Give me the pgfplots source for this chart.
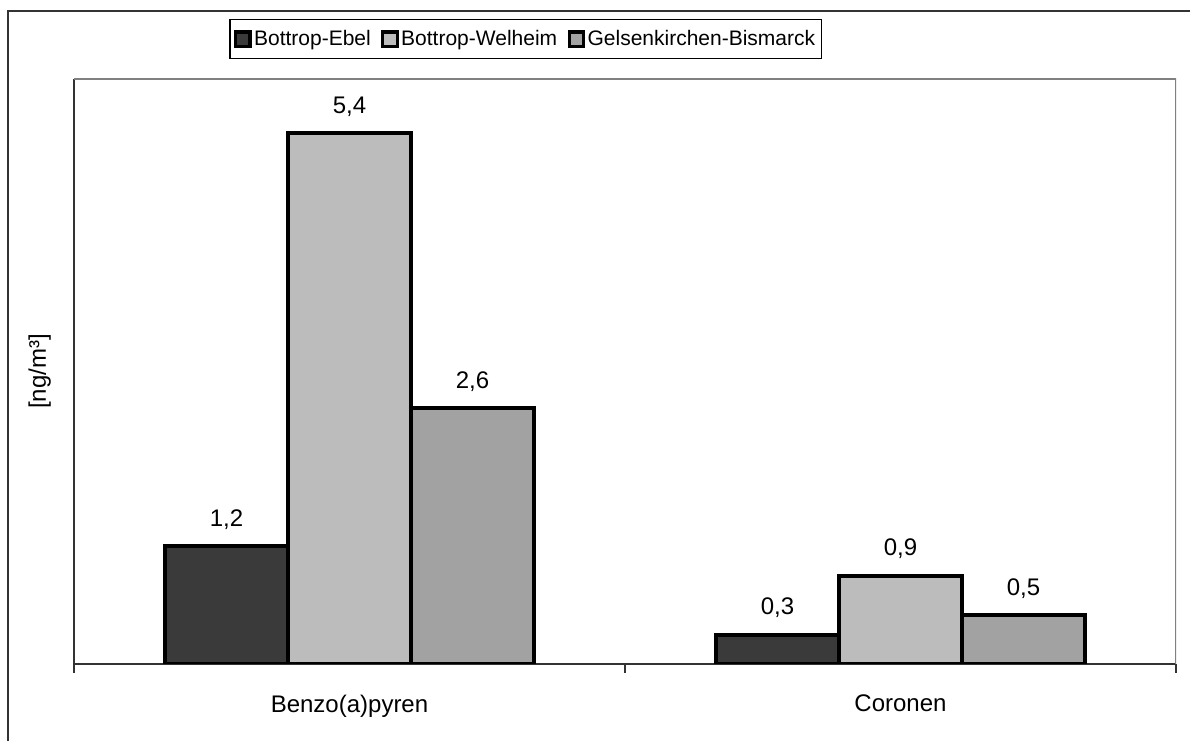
\documentclass[border=0pt]{standalone}
\usepackage{fontspec}
\setmainfont{Liberation Sans}
\usepackage{pgfplots}
\pgfplotsset{compat=1.18}

\definecolor{ebel}{HTML}{3A3A3A}
\definecolor{welheim}{HTML}{BCBCBC}
\definecolor{bismarck}{HTML}{A2A2A2}

\begin{document}
\begin{tikzpicture}
\useasboundingbox (0,0) rectangle (595pt,370pt);
% outer chart frame (cut off at right and bottom in the original)
\draw[line width=1pt, black!80] (4pt,-2pt) -- (4pt,364.5pt) -- (597pt,364.5pt);
\begin{axis}[
    at={(37pt,38pt)}, anchor=south west,
    scale only axis,
    width=551pt, height=292.5pt,
    ybar=0pt,
    bar width=61.5pt,
    xmin=-0.5, xmax=1.5,
    ymin=0, ymax=5.95,
    axis x line*=bottom,
    axis y line*=left,
    axis line style={-, draw=black!80, line width=1pt},
    ytick=\empty,
    xtick={0,1},
    xticklabels={Benzo(a)pyren, Coronen},
    major tick length=0pt,
    extra x ticks={-0.5,0.5,1.5},
    extra x tick labels={},
    extra x tick style={major tick length=4.5pt, tick align=outside,
        tick style={black!80, line width=1pt}},
    xticklabel style={font=\fontsize{12}{14}\selectfont, yshift=-12pt},
    ylabel={[ng/m³]},
    ylabel style={font=\fontsize{12}{14}\selectfont, at={(axis description cs:0,0.5)}, anchor=south, yshift=8pt},
    nodes near coords,
    /pgf/number format/.cd, use comma, fixed, fixed zerofill, precision=1, assume math mode=true,
    /pgfplots/.cd,
    every node near coord/.append style={font=\fontsize{12}{14}\selectfont, black, yshift=4pt},
    legend columns=3,
    legend style={at={(0.41,1.068)}, anchor=center, draw=black, line width=0.6pt,
        font=\fontsize{10.5}{12}\selectfont, inner xsep=2pt, inner ysep=3.2pt,
        nodes={inner xsep=1.2pt},
        /tikz/every odd column/.append style={column sep=0pt},
        /tikz/every even column/.append style={column sep=4pt}},
    legend cell align=left,
]
\draw[black!50, line width=1pt] (rel axis cs:0,1) -- (rel axis cs:1,1) -- (rel axis cs:1,0);
\addplot[fill=ebel, draw=black, line width=2pt,
    legend image code/.code={\draw[fill=ebel, draw=black, line width=1.6pt] (0pt,-3.6pt) rectangle (7.2pt,3.6pt);}]
    coordinates {(0,1.2) (1,0.3)};
\addlegendentry{Bottrop-Ebel}
\addplot[fill=welheim, draw=black, line width=2pt,
    legend image code/.code={\draw[fill=welheim, draw=black, line width=1.6pt] (0pt,-3.6pt) rectangle (7.2pt,3.6pt);}]
    coordinates {(0,5.4) (1,0.9)};
\addlegendentry{Bottrop-Welheim}
\addplot[fill=bismarck, draw=black, line width=2pt,
    legend image code/.code={\draw[fill=bismarck, draw=black, line width=1.6pt] (0pt,-3.6pt) rectangle (7.2pt,3.6pt);}]
    coordinates {(0,2.6) (1,0.5)};
\addlegendentry{Gelsenkirchen-Bismarck}
\end{axis}
\end{tikzpicture}
\end{document}
